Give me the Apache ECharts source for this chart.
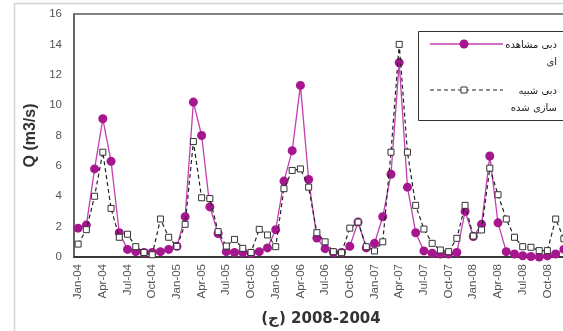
<!DOCTYPE html>
<html>
<head>
<meta charset="utf-8">
<script src="https://cdn.jsdelivr.net/npm/echarts@6/dist/echarts.min.js"></script>
<style>
  html, body { margin: 0; padding: 0; background: #fff; }
  #chart { width: 563px; height: 331px; }
</style>
</head>
<body>
<div id="chart"></div>
<script>
// Monthly discharge, Jan 2004 – Dec 2008
const years = ['04', '05', '06', '07', '08'];
const monthNames = ['Jan', 'Feb', 'Mar', 'Apr', 'May', 'Jun', 'Jul', 'Aug', 'Sep', 'Oct', 'Nov', 'Dec'];
const categories = [];
years.forEach(y => monthNames.forEach(m => categories.push(m + '-' + y)));

// observed discharge (m3/s)
const observed = [
  1.9, 2.1, 5.8, 9.1, 6.3, 1.6, 0.5, 0.35, 0.3, 0.3, 0.35, 0.5,
  0.7, 2.65, 10.2, 8.0, 3.3, 1.55, 0.35, 0.3, 0.3, 0.25, 0.35, 0.6,
  1.8, 5.0, 7.0, 11.3, 5.1, 1.25, 0.55, 0.3, 0.3, 0.7, 2.3, 0.6,
  0.9, 2.65, 5.45, 12.8, 4.6, 1.6, 0.4, 0.25, 0.2, 0.2, 0.3, 3.0,
  1.35, 2.15, 6.65, 2.25, 0.35, 0.2, 0.08, 0.03, 0.0, 0.07, 0.2, 0.5
];

// simulated discharge (m3/s)
const simulated = [
  0.85, 1.8, 4.0, 6.9, 3.2, 1.3, 1.5, 0.68, 0.3, 0.15, 2.5, 1.3,
  0.7, 2.15, 7.6, 3.9, 3.85, 1.67, 0.72, 1.16, 0.57, 0.3, 1.82, 1.45,
  0.68, 4.5, 5.7, 5.8, 4.6, 1.6, 1.0, 0.35, 0.28, 1.9, 2.3, 0.68,
  0.4, 1.0, 6.9, 14.0, 6.9, 3.4, 1.84, 0.9, 0.46, 0.35, 1.23, 3.4,
  1.38, 1.78, 5.85, 4.1, 2.5, 1.3, 0.68, 0.64, 0.42, 0.42, 2.5, 1.2
];

const observedName = 'دبی مشاهده\nای';
const simulatedName = 'دبی شبیه\nسازی شده';
const xTitle = '(ج\u200E) 2008-2004';
const yTitle = 'Q (m3/s)';

const arabicFont = 'DejaVu Sans';
const latinFont = 'Liberation Sans';

const chart = echarts.init(document.getElementById('chart'), null, { renderer: 'canvas' });

chart.setOption({
  backgroundColor: '#fff',
  animation: false,
  grid: {
    left: 74, top: 14, width: 494, height: 243,
    show: true, borderColor: '#5a5a5a', borderWidth: 1.5,
    containLabel: false, outerBoundsMode: 'none'
  },
  xAxis: {
    type: 'category',
    data: categories,
    boundaryGap: true,
    name: xTitle,
    nameLocation: 'middle',
    nameGap: 55,
    nameTextStyle: { fontFamily: arabicFont, fontWeight: 'bold', fontSize: 15, color: '#333' },
    axisLine: { lineStyle: { color: '#222', width: 1.5 } },
    axisTick: { show: false },
    axisLabel: {
      interval: 2, rotate: 90, margin: 7,
      fontFamily: latinFont, fontSize: 11.5, color: '#555'
    },
    splitLine: { show: false }
  },
  yAxis: {
    type: 'value',
    min: 0, max: 16, interval: 2,
    name: yTitle,
    nameLocation: 'middle',
    nameRotate: 90,
    nameGap: 35,
    nameTextStyle: { fontFamily: latinFont, fontWeight: 'bold', fontSize: 16, color: '#333' },
    axisLine: { show: true, lineStyle: { color: '#5a5a5a', width: 1.5 } },
    axisTick: { show: false },
    axisLabel: { margin: 12, fontFamily: latinFont, fontSize: 11.5, color: '#555' },
    splitLine: { show: false }
  },
  series: [
    {
      name: observedName,
      type: 'line',
      data: observed,
      symbol: 'circle',
      symbolSize: 9,
      showAllSymbol: true,
      lineStyle: { color: '#c43fb1', width: 1.3 },
      itemStyle: { color: '#a5168f' },
      z: 2
    },
    {
      name: simulatedName,
      type: 'line',
      data: simulated,
      symbol: 'rect',
      symbolSize: 6,
      showAllSymbol: true,
      lineStyle: { color: '#222', width: 1.2, type: [4, 3] },
      itemStyle: { color: '#fff', borderColor: '#333', borderWidth: 1 },
      z: 3
    }
  ],
  graphic: [
    // outer frame edges
    { type: 'line', shape: { x1: 14.5, y1: 3, x2: 14.5, y2: 331 }, style: { stroke: '#d4d4d4', lineWidth: 1.5 }, silent: true },
    { type: 'line', shape: { x1: 14, y1: 3.5, x2: 563, y2: 3.5 }, style: { stroke: '#d4d4d4', lineWidth: 1.5 }, silent: true },
    // legend box
    { type: 'rect', shape: { x: 418.5, y: 31.5, width: 150, height: 89 }, style: { fill: '#fff', stroke: '#333', lineWidth: 1 }, z: 10 },
    { type: 'line', shape: { x1: 430, y1: 44, x2: 503, y2: 44 }, style: { stroke: '#c43fb1', lineWidth: 1.3 }, z: 11 },
    { type: 'circle', shape: { cx: 464, cy: 44, r: 4.5 }, style: { fill: '#a5168f' }, z: 12 },
    { type: 'text', style: { text: observedName, x: 557, y: 37, align: 'right', verticalAlign: 'top', font: '10px "DejaVu Sans"', fill: '#222', lineHeight: 17 }, z: 12 },
    { type: 'line', shape: { x1: 430, y1: 90, x2: 503, y2: 90 }, style: { stroke: '#222', lineWidth: 1.2, lineDash: [4, 3] }, z: 11 },
    { type: 'rect', shape: { x: 461, y: 87, width: 6, height: 6 }, style: { fill: '#fff', stroke: '#333', lineWidth: 1 }, z: 12 },
    { type: 'text', style: { text: simulatedName, x: 557, y: 83, align: 'right', verticalAlign: 'top', font: '10px "DejaVu Sans"', fill: '#222', lineHeight: 17 }, z: 12 }
  ]
});
</script>
</body>
</html>
